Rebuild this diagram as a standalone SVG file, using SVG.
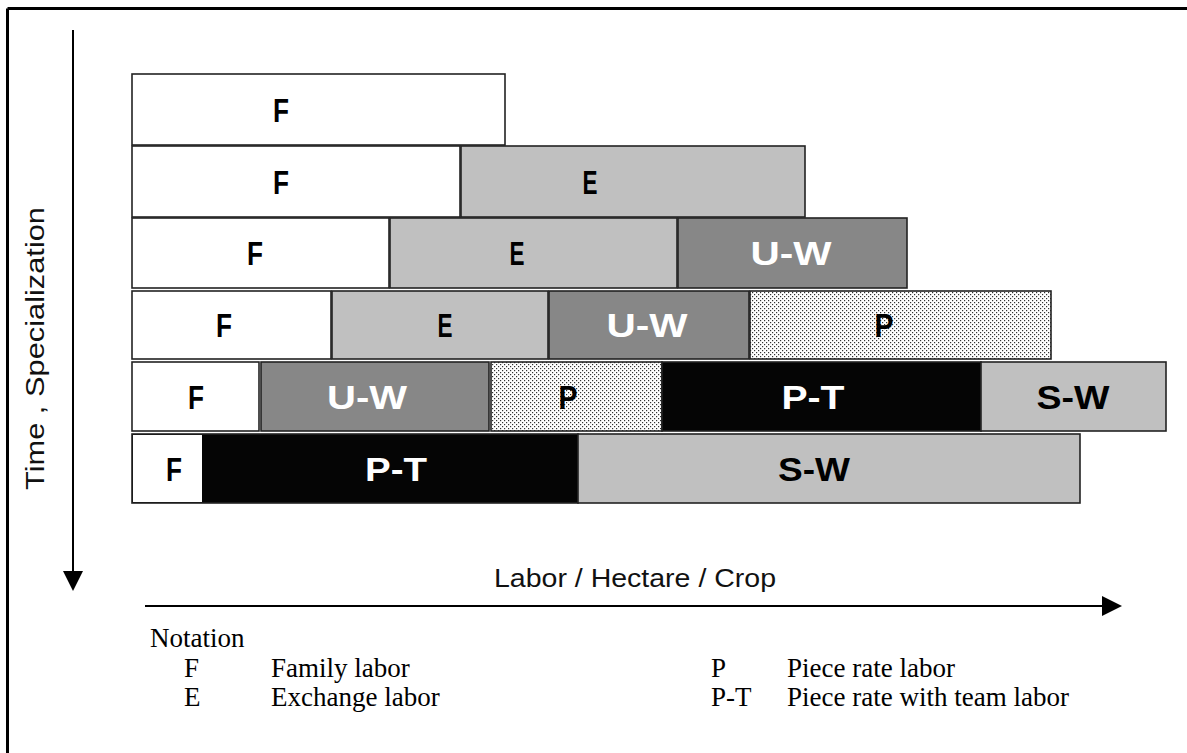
<svg xmlns="http://www.w3.org/2000/svg" width="1187" height="753" viewBox="0 0 1187 753">
<defs>
<pattern id="dots" width="4" height="4" patternUnits="userSpaceOnUse">
<rect width="4" height="4" fill="#ffffff"/>
<rect x="0" y="0" width="1.2" height="1.2" fill="#333"/>
<rect x="2" y="2" width="1.2" height="1.2" fill="#333"/>
</pattern>
<marker id="head" viewBox="0 0 10 10" refX="5" refY="5" markerWidth="20" markerHeight="20" markerUnits="userSpaceOnUse" orient="auto">
<path d="M0,0 L10,5 L0,10 z" fill="#000"/>
</marker>
<style>
.c{stroke:#222;stroke-width:1.6}
.w{fill:#ffffff}
.e{fill:#c0c0c0}
.u{fill:#878787}
.p{fill:url(#dots)}
.t{fill:#050505}
.s{fill:#c0c0c0}
.lb{font-family:"Liberation Sans",Arial,sans-serif;font-weight:bold;font-size:34px;text-anchor:middle}
.dk{fill:#000}
.lt{fill:#fff}
.ax{font-family:"Liberation Sans",Arial,sans-serif;font-size:26px;fill:#111}
.lg{font-family:"Liberation Serif","Times New Roman",serif;font-size:27px;fill:#000}
.ln{stroke:#000;stroke-width:2;fill:none}
</style>
</defs>
<rect width="1187" height="753" fill="#fff"/>
<g id="frame">
<line x1="7.5" y1="8.5" x2="1187" y2="8.5" stroke="#000" stroke-width="3"/>
<line x1="7.5" y1="8.5" x2="7.5" y2="753" stroke="#000" stroke-width="3"/>
</g>
<g id="row1">
<rect class="c w" x="132" y="74" width="373" height="71"/>
<text class="lb dk" x="281" y="122" textLength="16" lengthAdjust="spacingAndGlyphs">F</text>
</g>
<g id="row2">
<rect class="c w" x="132" y="146" width="328" height="71"/>
<rect class="c e" x="461" y="146" width="344" height="71"/>
<text class="lb dk" x="281" y="194" textLength="16" lengthAdjust="spacingAndGlyphs">F</text>
<text class="lb dk" x="590" y="194" textLength="15" lengthAdjust="spacingAndGlyphs">E</text>
</g>
<g id="row3">
<rect class="c w" x="132" y="218" width="257" height="70"/>
<rect class="c e" x="390" y="218" width="287" height="70"/>
<rect class="c u" x="678" y="218" width="229" height="70"/>
<text class="lb dk" x="255" y="265" textLength="16" lengthAdjust="spacingAndGlyphs">F</text>
<text class="lb dk" x="517" y="265" textLength="15" lengthAdjust="spacingAndGlyphs">E</text>
<text class="lb lt" x="791" y="265" textLength="81" lengthAdjust="spacingAndGlyphs">U-W</text>
</g>
<g id="row4">
<rect class="c w" x="132" y="291" width="199" height="68"/>
<rect class="c e" x="332" y="291" width="216" height="68"/>
<rect class="c u" x="549" y="291" width="200" height="68"/>
<rect class="c p" x="750" y="291" width="301" height="68"/>
<text class="lb dk" x="224" y="337" textLength="16" lengthAdjust="spacingAndGlyphs">F</text>
<text class="lb dk" x="445" y="337" textLength="15" lengthAdjust="spacingAndGlyphs">E</text>
<text class="lb lt" x="647" y="337" textLength="81" lengthAdjust="spacingAndGlyphs">U-W</text>
<text class="lb dk" x="884" y="337" textLength="19" lengthAdjust="spacingAndGlyphs">P</text>
</g>
<g id="row5">
<rect class="c w" x="132" y="362" width="127" height="69"/>
<rect class="c u" x="261" y="362" width="228" height="69"/>
<rect class="c p" x="491" y="362" width="171" height="69"/>
<rect class="c t" x="662" y="362" width="319" height="69"/>
<rect class="c s" x="981" y="362" width="185" height="69"/>
<text class="lb dk" x="196" y="409" textLength="16" lengthAdjust="spacingAndGlyphs">F</text>
<text class="lb lt" x="367" y="409" textLength="80" lengthAdjust="spacingAndGlyphs">U-W</text>
<text class="lb dk" x="568" y="409" textLength="19" lengthAdjust="spacingAndGlyphs">P</text>
<text class="lb lt" x="813" y="409" textLength="63" lengthAdjust="spacingAndGlyphs">P-T</text>
<text class="lb dk" x="1073" y="409" textLength="73" lengthAdjust="spacingAndGlyphs">S-W</text>
</g>
<g id="row6">
<rect class="c t" x="132" y="434" width="446" height="69"/>
<rect class="w" x="133" y="435" width="69" height="67"/>
<rect class="c s" x="578" y="434" width="502" height="69"/>
<text class="lb dk" x="174" y="481" textLength="16" lengthAdjust="spacingAndGlyphs">F</text>
<text class="lb lt" x="396" y="481" textLength="62" lengthAdjust="spacingAndGlyphs">P-T</text>
<text class="lb dk" x="814" y="481" textLength="72" lengthAdjust="spacingAndGlyphs">S-W</text>
</g>
<g id="connectors">
<line class="ln" x1="73" y1="30" x2="73" y2="581" marker-end="url(#head)"/>
<line class="ln" x1="145" y1="606" x2="1112" y2="606" marker-end="url(#head)"/>
</g>
<g id="axis-labels">
<text class="ax" transform="translate(44,490) rotate(-90)" x="0" y="0" textLength="283" lengthAdjust="spacingAndGlyphs">Time , Specialization</text>
<text class="ax" x="494" y="587" textLength="282" lengthAdjust="spacingAndGlyphs">Labor / Hectare / Crop</text>
</g>
<g id="legend">
<text class="lg" x="150" y="647">Notation</text>
<text class="lg" x="184" y="677">F</text>
<text class="lg" x="271" y="677">Family labor</text>
<text class="lg" x="184" y="706">E</text>
<text class="lg" x="271" y="706">Exchange labor</text>
<text class="lg" x="711" y="677">P</text>
<text class="lg" x="787" y="677">Piece rate labor</text>
<text class="lg" x="711" y="706">P-T</text>
<text class="lg" x="787" y="706">Piece rate with team labor</text>
</g>
</svg>
